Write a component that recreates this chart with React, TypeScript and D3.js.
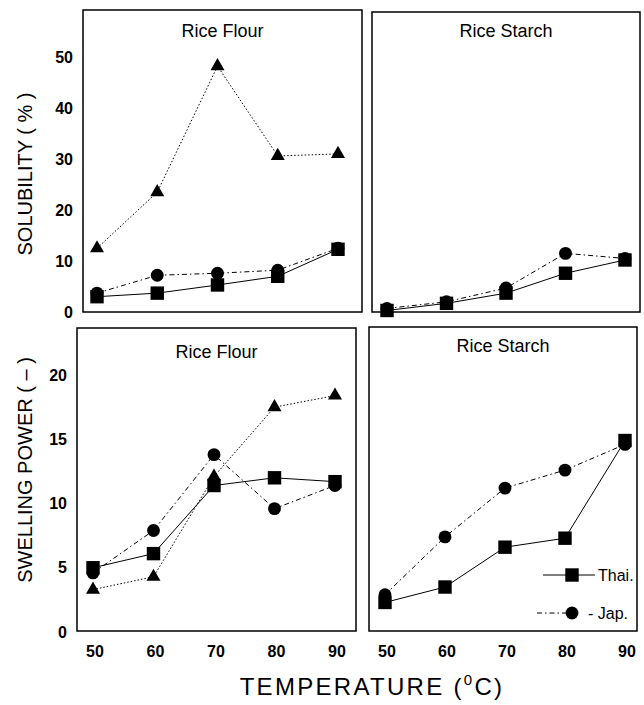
import React from "react";
import * as d3 from "d3";

// temperatures (°C)
const temps = [50, 60, 70, 80, 90];

// solubility (%)
const solFlourThai = [3.0, 3.7, 5.3, 7.0, 12.3];
const solFlourJap = [3.7, 7.2, 7.6, 8.2, 12.5];
const solFlourTri = [12.5, 23.5, 48.2, 30.6, 31.0];
const solStarchThai = [0.3, 1.7, 3.7, 7.6, 10.2];
const solStarchJap = [0.7, 2.0, 4.7, 11.5, 10.5];

// swelling power (-)
const swFlourThai = [5.0, 6.1, 11.4, 12.0, 11.7];
const swFlourJap = [4.6, 7.9, 13.8, 9.6, 11.4];
const swFlourTri = [3.3, 4.3, 12.1, 17.5, 18.4];
const swStarchThai = [2.3, 3.5, 6.6, 7.3, 14.9];
const swStarchJap = [2.9, 7.4, 11.2, 12.6, 14.6];

const solTicks = [0, 10, 20, 30, 40, 50];
const swTicks = [0, 5, 10, 15, 20];

const FONT = "'Liberation Sans', Arial, Helvetica, sans-serif";
const JAP_DASH = "5,3,1.5,3";

type Series = { values: number[]; kind: "thai" | "jap" | "tri" };

const styles = {
  thai: { dash: "none", symbol: d3.symbolSquare, size: 180 },
  jap: { dash: JAP_DASH, symbol: d3.symbolCircle, size: 130 },
  tri: { dash: "1.5,2", symbol: d3.symbolTriangle, size: 85 },
};

type PanelProps = {
  title: string;
  box: [number, number, number, number]; // x0, x1, y0, y1
  xr: [number, number];
  yDomain: [number, number];
  yRange: [number, number];
  series: Series[];
  titleY: number;
  yTicks?: number[];
  xTicks?: boolean;
  legend?: boolean;
};

function Panel({ title, box, xr, yDomain, yRange, series, titleY, yTicks, xTicks, legend }: PanelProps) {
  const [x0, x1, y0, y1] = box;
  const x = d3.scaleLinear().domain([50, 90]).range(xr);
  const y = d3.scaleLinear().domain(yDomain).range(yRange);
  const line = d3.line<number>().x((_, i) => x(temps[i])).y((v) => y(v));

  return (
    <g>
      <rect x={x0} y={y0} width={x1 - x0} height={y1 - y0} fill="none" stroke="#000" strokeWidth={1.5} />
      <text x={(x0 + x1) / 2} y={titleY} textAnchor="middle" fontFamily={FONT} fontSize={18}>
        {title}
      </text>
      {yTicks &&
        yTicks.map((t) => (
          <text key={t} x={x0 - 10} y={y(t)} dy="0.35em" textAnchor="end" fontFamily={FONT} fontWeight="bold" fontSize={16}>
            {t}
          </text>
        ))}
      {xTicks &&
        temps.map((t) => (
          <text key={t} x={x(t) + 2} y={y1 + 26} textAnchor="middle" fontFamily={FONT} fontWeight="bold" fontSize={16}>
            {t}
          </text>
        ))}
      {series.map((s, k) => (
        <g key={k}>
          <path d={line(s.values) || ""} fill="none" stroke="#000" strokeWidth={1} strokeDasharray={styles[s.kind].dash} />
          {s.values.map((v, i) => (
            <path
              key={i}
              transform={`translate(${x(temps[i])},${y(v)})`}
              d={d3.symbol().type(styles[s.kind].symbol).size(styles[s.kind].size)() || ""}
              fill="#000"
            />
          ))}
        </g>
      ))}
      {legend && (
        <g fontFamily={FONT} fontSize={16}>
          <line x1={x1 - 94} x2={x1 - 42} y1={y1 - 56} y2={y1 - 56} stroke="#000" strokeWidth={1.2} />
          <path transform={`translate(${x1 - 65},${y1 - 56})`} d={d3.symbol().type(d3.symbolSquare).size(180)() || ""} fill="#000" />
          <text x={x1 - 39} y={y1 - 56} dy="0.35em">Thai.</text>
          <line x1={x1 - 100} x2={x1 - 68} y1={y1 - 18} y2={y1 - 18} stroke="#000" strokeWidth={1} strokeDasharray={JAP_DASH} />
          <path transform={`translate(${x1 - 65},${y1 - 18})`} d={d3.symbol().type(d3.symbolCircle).size(130)() || ""} fill="#000" />
          <text x={x1 - 49} y={y1 - 18} dy="0.35em">- Jap.</text>
        </g>
      )}
    </g>
  );
}

export default function App() {
  return (
    <svg width={644} height={705} style={{ display: "block", position: "absolute", left: 0, top: 0 }}>
      <rect width={644} height={705} fill="#fff" />
      <Panel
        title="Rice Flour"
        box={[83, 362, 10, 312]}
        xr={[97, 338]}
        yDomain={[0, 50]}
        yRange={[312, 57]}
        titleY={37}
        yTicks={solTicks}
        series={[
          { values: solFlourTri, kind: "tri" },
          { values: solFlourJap, kind: "jap" },
          { values: solFlourThai, kind: "thai" },
        ]}
      />
      <Panel
        title="Rice Starch"
        box={[372, 640, 12, 312]}
        xr={[387, 625]}
        yDomain={[0, 50]}
        yRange={[312, 57]}
        titleY={37}
        series={[
          { values: solStarchJap, kind: "jap" },
          { values: solStarchThai, kind: "thai" },
        ]}
      />
      <Panel
        title="Rice Flour"
        box={[77, 356, 328, 631]}
        xr={[93, 335]}
        yDomain={[0, 20]}
        yRange={[632, 375]}
        titleY={358}
        yTicks={swTicks}
        xTicks
        series={[
          { values: swFlourTri, kind: "tri" },
          { values: swFlourJap, kind: "jap" },
          { values: swFlourThai, kind: "thai" },
        ]}
      />
      <Panel
        title="Rice Starch"
        box={[369, 637, 327, 631]}
        xr={[385, 625]}
        yDomain={[0, 20]}
        yRange={[632, 375]}
        titleY={352}
        xTicks
        legend
        series={[
          { values: swStarchJap, kind: "jap" },
          { values: swStarchThai, kind: "thai" },
        ]}
      />
      <text transform="translate(32,174) rotate(-90)" textAnchor="middle" fontFamily={FONT} fontSize={20}>
        SOLUBILITY ( % )
      </text>
      <text transform="translate(32,470) rotate(-90)" textAnchor="middle" fontFamily={FONT} fontSize={20}>
        SWELLING POWER ( – )
      </text>
      <text x={372} y={695} textAnchor="middle" fontFamily={FONT} fontSize={24} letterSpacing={2.3}>
        TEMPERATURE (<tspan fontSize={15} dy={-10}>0</tspan>
        <tspan dy={10}>C)</tspan>
      </text>
    </svg>
  );
}
